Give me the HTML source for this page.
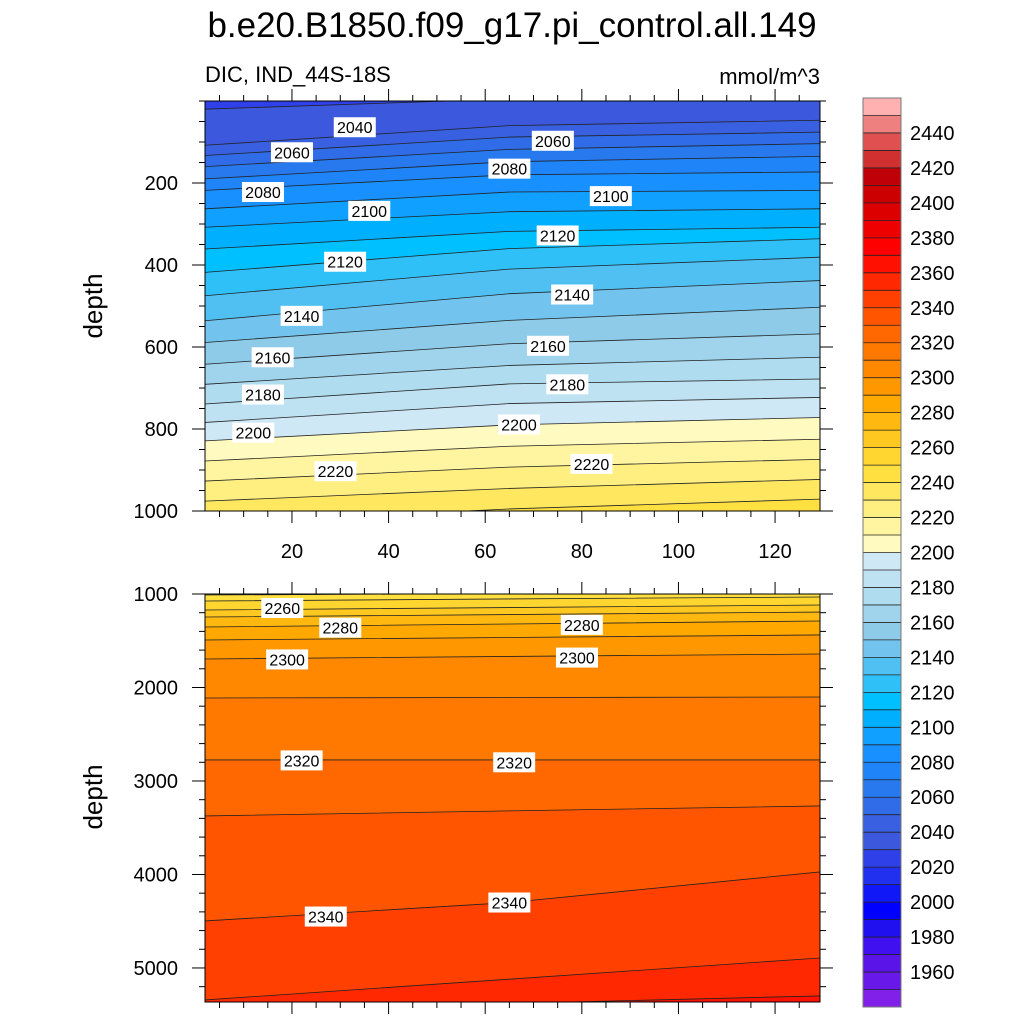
<!DOCTYPE html>
<html><head><meta charset="utf-8"><style>
html,body{margin:0;padding:0;background:#fff;}
svg{display:block;font-family:"Liberation Sans",Arial,sans-serif;}
</style></head><body>
<svg id="chart" width="1024" height="1024" viewBox="0 0 1024 1024">
<text x="512" y="37" text-anchor="middle" font-size="35">b.e20.B1850.f09_g17.pi_control.all.149</text>
<text x="205" y="82" font-size="22">DIC, IND_44S-18S</text>
<text x="820" y="84" font-size="22" text-anchor="end">mmol/m^3</text>
<text transform="translate(102,306) rotate(-90)" text-anchor="middle" font-size="26">depth</text>
<text transform="translate(102,797) rotate(-90)" text-anchor="middle" font-size="26">depth</text>
<g id="top"></g>
<g id="bot"></g>
<g id="cbar"></g>
</svg>
<script>
// colorbar levels and colors (box 0 is below 1950, box i covers [1950+10(i-1), 1950+10i))
const cbLevelMin = 1950, cbLevelStep = 10;
const cbColors = ["#8020e8","#6818e8","#5a14e8","#4010f0","#2010f0","#0000ff","#1018f8","#2030ee","#3040e8","#3c58dc","#3860e0","#306ce8","#2878ee","#1e84f8","#1890ff","#10a0ff","#00b0ff","#00c0ff","#30c0f8","#50c0f3","#72c4ef","#8ecbe8","#a0d4ec","#b0dcf0","#bfe2f3","#cfe8f5",
"#fffac0","#fff5a0","#ffef80","#ffe860","#ffe040","#ffd530","#ffc820","#ffb810","#ffa800","#ff9800","#ff8800","#ff7800","#ff6800","#ff5500","#ff4000","#ff2800","#ff1000","#ff0000","#ee0000","#dd0000","#cc0000","#c00008","#d03030","#e05050","#ee8080","#ffb0b0"];
const cbTickLabels = [1960,1980,2000,2020,2040,2060,2080,2100,2120,2140,2160,2180,2200,2220,2240,2260,2280,2300,2320,2340,2360,2380,2400,2420,2440];

// top panel contour data: depth (m) of each level at x samples
const topX = [2, 65, 129.3];
const topLevels = [2020,2030,2040,2050,2060,2070,2080,2090,2100,2110,2120,2130,2140,2150,2160,2170,2180,2190,2200,2210,2220,2230,2240];
const topLeft  = [-5,20,108,133,160,190,218,263,308,361,418,475,536,589,642,691,739,784,829,878,927,976,1030];
const topMid   = [-40,-5,60,88,118,148,180,222,270,318,360,410,470,535,592,645,690,738,790,842,893,945,995];
const topRight = [-60,-20,47,76,104,135,173,218,263,308,336,381,438,503,568,625,678,723,772,825,874,923,971];
const topLabels = [[2040,33,64],[2060,20,125],[2080,14,222],[2100,36,268],[2120,31,392],[2140,22,524],[2160,16,625],[2180,14,716],[2200,12,809],[2220,29,903],[2060,74,97],[2080,65,165],[2100,86,232],[2120,75,328],[2140,78,472],[2160,73,597],[2180,77,691],[2200,67,789],[2220,82,885]];

// bottom panel contour data
const botX = [2, 65, 129.3];
const botLevels = [2240,2250,2260,2270,2280,2290,2300,2310,2320,2330,2340,2350,2360];
const botLeft  = [1011,1075,1171,1246,1353,1492,1695,2112,2775,3374,4497,5342,5450];
const botMid   = [995,1053,1145,1220,1321,1465,1668,2107,2775,3320,4300,5120,5380];
const botRight = [979,1032,1118,1193,1289,1438,1642,2102,2775,3267,3973,4893,5299];
const botLabels = [[2260,18,1150],[2280,30,1360],[2300,19,1700],[2320,22,2780],[2280,80,1330],[2300,79,1680],[2320,66,2800],[2340,27,4450],[2340,65,4300]];

const NS="http://www.w3.org/2000/svg";
function el(tag, attrs, parent){const e=document.createElementNS(NS,tag);for(const k in attrs)e.setAttribute(k,attrs[k]);parent.appendChild(e);return e;}
function colorFor(v){let i=Math.floor((v-cbLevelMin)/cbLevelStep)+1;i=Math.max(0,Math.min(cbColors.length-1,i));return cbColors[i];}

const px0=205, px1=820, xMin=2, xMax=129.3;
function xs(x){return px0+(x-xMin)/(xMax-xMin)*(px1-px0);}

function panel(g, name, y0, y1, dMin, dMax, X, levels, L, M, R, labels, yTicks, yMinorStep, showXLabels){
  const ys=d=>y0+(d-dMin)/(dMax-dMin)*(y1-y0);
  const cid='clip-'+name;
  const cp=el('clipPath',{id:cid},g);
  el('rect',{x:px0,y:y0,width:px1-px0,height:y1-y0},cp);
  const fg=el('g',{'clip-path':'url(#'+cid+')'},g);
  const bg=el('rect',{x:px0,y:y0,width:px1-px0,height:y1-y0,fill:colorFor(levels[0]-5)},fg);
  
  
  const cols=[L,M,R];
  levels.forEach((lv,i)=>{
    const pts=X.map((x,j)=>[xs(x),ys(cols[j][i])]);
    let d='M'+(px0-5)+','+pts[0][1];
    pts.forEach(p=>{d+=' L'+p[0]+','+p[1];});
    d+=' L'+(px1+5)+','+pts[pts.length-1][1]+' L'+(px1+5)+','+(y1+50)+' L'+(px0-5)+','+(y1+50)+'Z';
    const band=el('path',{d:d,fill:colorFor(lv+5)},fg);
    
    
  });
  levels.forEach((lv,i)=>{
    const pts=X.map((x,j)=>xs(x)+','+ys(cols[j][i]));
    const ln=el('polyline',{points:pts.join(' '),fill:'none',stroke:'#222','stroke-width':0.8},fg);
    
    
  });
  labels.forEach(lb=>{
    const cx=xs(lb[1]), cy=ys(lb[2]);
    const lg=el('g',{},g);
    
    
    el('rect',{x:cx-21,y:cy-10,width:42,height:20,fill:'#fff'},lg);
    const t=el('text',{x:cx,y:cy+6,'text-anchor':'middle','font-size':16},lg);
    t.textContent=lb[0];
  });
  const fr=el('rect',{x:px0,y:y0,width:px1-px0,height:y1-y0,fill:'none',stroke:'#000','stroke-width':1},g);
  
  
  for(let d=Math.ceil(dMin/yMinorStep)*yMinorStep; d<=dMax; d+=yMinorStep){
    const y=ys(d); const major=yTicks.includes(d);
    const len=major?13:6;
    el('line',{x1:px0-len,y1:y,x2:px0,y2:y,stroke:'#000','stroke-width':1},g);
    el('line',{x1:px1,y1:y,x2:px1+len,y2:y,stroke:'#000','stroke-width':1},g);
    if(major){
      const t=el('text',{x:px0-27,y:y+7,'text-anchor':'end','font-size':20},g);
      
      
      t.textContent=d;
    }
  }
  for(let x=5;x<=xMax;x+=5){
    const X0=xs(x); const major=x%20===0; const len=major?12:6;
    el('line',{x1:X0,y1:y0-len,x2:X0,y2:y0,stroke:'#000','stroke-width':1},g);
    el('line',{x1:X0,y1:y1,x2:X0,y2:y1+len,stroke:'#000','stroke-width':1},g);
    if(major && showXLabels){
      const t=el('text',{x:X0,y:y1+47,'text-anchor':'middle','font-size':20},g);
      
      
      t.textContent=x;
    }
  }
}
const topG=document.getElementById('top');


panel(topG,'top',101,511,0,1000,topX,topLevels,topLeft,topMid,topRight,topLabels,[200,400,600,800,1000],50,true);
const botG=document.getElementById('bot');


panel(botG,'bottom',594,1002,1000,5364,botX,botLevels,botLeft,botMid,botRight,botLabels,[1000,2000,3000,4000,5000],200,false);

const cb=document.getElementById('cbar');


const cbx=863, cbw=38, cbTop=98, cbBot=1007;
const bh=(cbBot-cbTop)/cbColors.length;
cbColors.forEach((c,i)=>{
  const y=cbBot-(i+1)*bh;
  const r=el('rect',{x:cbx,y:y,width:cbw,height:bh+0.3,fill:c},cb);
  
  
  if(i>0) el('line',{x1:cbx,y1:cbBot-i*bh,x2:cbx+cbw,y2:cbBot-i*bh,stroke:'#222','stroke-width':0.8},cb);
});
el('rect',{x:cbx,y:cbTop,width:cbw,height:cbBot-cbTop,fill:'none',stroke:'#777','stroke-width':1},cb);
cbTickLabels.forEach(v=>{
  const i=(v-cbLevelMin)/cbLevelStep+1;
  const y=cbBot-i*bh;
  const t=el('text',{x:910,y:y+7,'font-size':20},cb);
  
  
  t.textContent=v;
});
</script>
</body></html>
